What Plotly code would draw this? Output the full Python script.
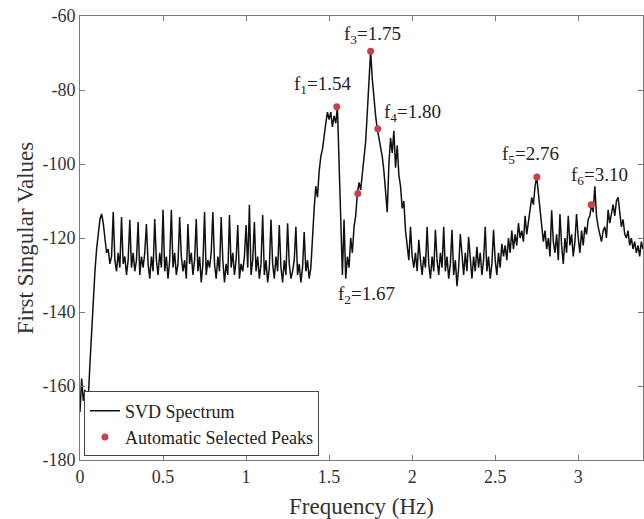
import plotly.graph_objects as go

svd_db = [
    -167, -158, -164, -161, -166, -163, -154, -145, -136, -129,
    -123, -118, -115, -113.5, -116, -120, -124, -123, -127, -125,
    -113, -126, -129, -124, -128, -114.3, -127, -125, -130, -126,
    -115.1, -128, -124, -129, -126, -115.7, -130, -125, -128, -124,
    -116.2, -127, -131, -125, -129, -114.9, -126, -130, -124, -128,
    -112.4, -129, -125, -131, -126, -112.4, -128, -124, -130, -127,
    -114.3, -125, -129, -126, -131, -116.2, -127, -124, -130, -126,
    -114.9, -129, -125, -132, -127, -113, -130, -126, -128, -124,
    -113, -127, -131, -125, -129, -114.3, -126, -132, -127, -130,
    -113.8, -128, -124, -130, -126, -116.5, -131, -127, -129, -125,
    -116.5, -128, -111, -130, -126, -115.7, -129, -125, -131, -127,
    -113.8, -130, -126, -132, -128, -115, -127, -131, -125, -129,
    -116.5, -128, -132, -126, -130, -116, -127, -131, -129, -126,
    -117, -130, -127, -132, -128, -118.4, -129, -126, -131, -128,
    -118, -112, -106, -109, -102, -98, -96, -92, -89, -86,
    -88, -86, -90, -87, -89, -84.5, -100, -120, -130, -115,
    -131, -125, -128, -120, -124, -117, -114, -108, -105, -107,
    -102, -98, -94, -86, -78, -69.5, -77, -83, -87, -90.5,
    -93, -95, -98, -102, -107, -113, -100, -93, -97, -91,
    -101, -95, -103, -106, -112, -110, -118, -122, -126, -117,
    -125, -128, -124, -129, -120.5, -126, -130, -125, -128, -117,
    -127, -131, -125, -129, -117.8, -126, -130, -124, -128, -117,
    -129, -125, -131, -127, -117.8, -130, -126, -133, -128, -118.9,
    -126, -130, -124, -129, -119.7, -127, -131, -125, -129, -122.4,
    -128, -124, -130, -126, -117, -129, -125, -131, -127, -117.8,
    -126, -130, -124, -128, -121.6, -125, -122, -126, -120, -124,
    -118, -123, -119, -122, -116, -120, -118, -121, -114, -119,
    -116, -112, -109, -111, -106, -103.5, -108, -112, -117, -121,
    -118, -123, -120, -125, -112.5, -121, -124, -119, -126, -113.5,
    -122, -127, -120, -124, -114, -122, -119, -125, -121, -113.5,
    -120, -124, -118, -122, -117, -119, -115, -114, -111, -113,
    -106, -114, -117, -119, -121, -118, -117, -120, -112.4, -116,
    -113, -111, -114, -110, -109, -114, -117, -115, -119, -120,
    -118, -122, -120, -123, -121, -124, -122, -125, -121, -123,
]
freq_step = 0.01
freq = [round(i * freq_step, 2) for i in range(len(svd_db))]

# automatically selected peaks
peak_freq = [1.546, 1.673, 1.750, 1.793, 2.751, 3.078]
peak_val = [-84.5, -108, -69.5, -90.5, -103.5, -111]

# peak labels and where they sit
label_text = ["f<sub>1</sub>=1.54", "f<sub>2</sub>=1.67", "f<sub>3</sub>=1.75",
              "f<sub>4</sub>=1.80", "f<sub>5</sub>=2.76", "f<sub>6</sub>=3.10"]
label_x = [1.46, 1.725, 1.76, 2.0, 2.71, 3.13]
label_y = [-78.6, -135.3, -65.2, -86.3, -97.7, -103.2]

x_ticks = [0, 0.5, 1, 1.5, 2, 2.5, 3]
x_tick_text = ["0", "0.5", "1", "1.5", "2", "2.5", "3"]
y_ticks = [-180, -160, -140, -120, -100, -80, -60]
y_tick_text = ["-180", "-160", "-140", "-120", "-100", "-80", "-60"]

FONT = "Liberation Serif"

fig = go.Figure()
fig.add_trace(go.Scatter(
    x=freq, y=svd_db, mode="lines", name="SVD Spectrum",
    line=dict(color="#111111", width=1.5),
))
fig.add_trace(go.Scatter(
    x=peak_freq, y=peak_val, mode="markers", name="Automatic Selected Peaks",
    marker=dict(color="#c8404a", size=7),
))

for t, lx, ly in zip(label_text, label_x, label_y):
    fig.add_annotation(x=lx, y=ly, text=t, showarrow=False,
                       font=dict(family=FONT, size=19, color="#222222"))

axis_common = dict(
    showline=True, linecolor="#7a7a7a", linewidth=1, mirror="allticks",
    ticks="inside", ticklen=5, tickcolor="#7a7a7a", showgrid=False, zeroline=False,
    ticklabeloverflow="allow",
    tickfont=dict(family=FONT, size=18, color="#333333"),
)

fig.update_layout(
    width=644, height=519,
    margin=dict(l=80, r=1, t=16, b=59, autoexpand=False),
    paper_bgcolor="white", plot_bgcolor="white",
    font=dict(family=FONT),
    xaxis=dict(range=[0, 3.39], tickvals=x_ticks, ticktext=x_tick_text, automargin=False,
               title=dict(text="Frequency (Hz)", font=dict(family=FONT, size=23, color="#333333")),
               **axis_common),
    yaxis=dict(range=[-180, -60], tickvals=y_ticks, ticktext=y_tick_text, automargin=True,
               title=dict(text="First Singular Values", standoff=2,
                          font=dict(family=FONT, size=23, color="#333333")),
               **axis_common),
    legend=dict(x=0.007, y=0.008, xanchor="left", yanchor="bottom",
                bgcolor="white", bordercolor="#444444", borderwidth=1,
                font=dict(family=FONT, size=18, color="#222222"),
                tracegroupgap=0, itemwidth=30),
    showlegend=True,
)

# remove the page's default body margin so the figure fills the window exactly
fig.write_html("out.html", config={"displayModeBar": False},
               post_script="document.body.style.margin='0';document.body.style.overflow='hidden';")
